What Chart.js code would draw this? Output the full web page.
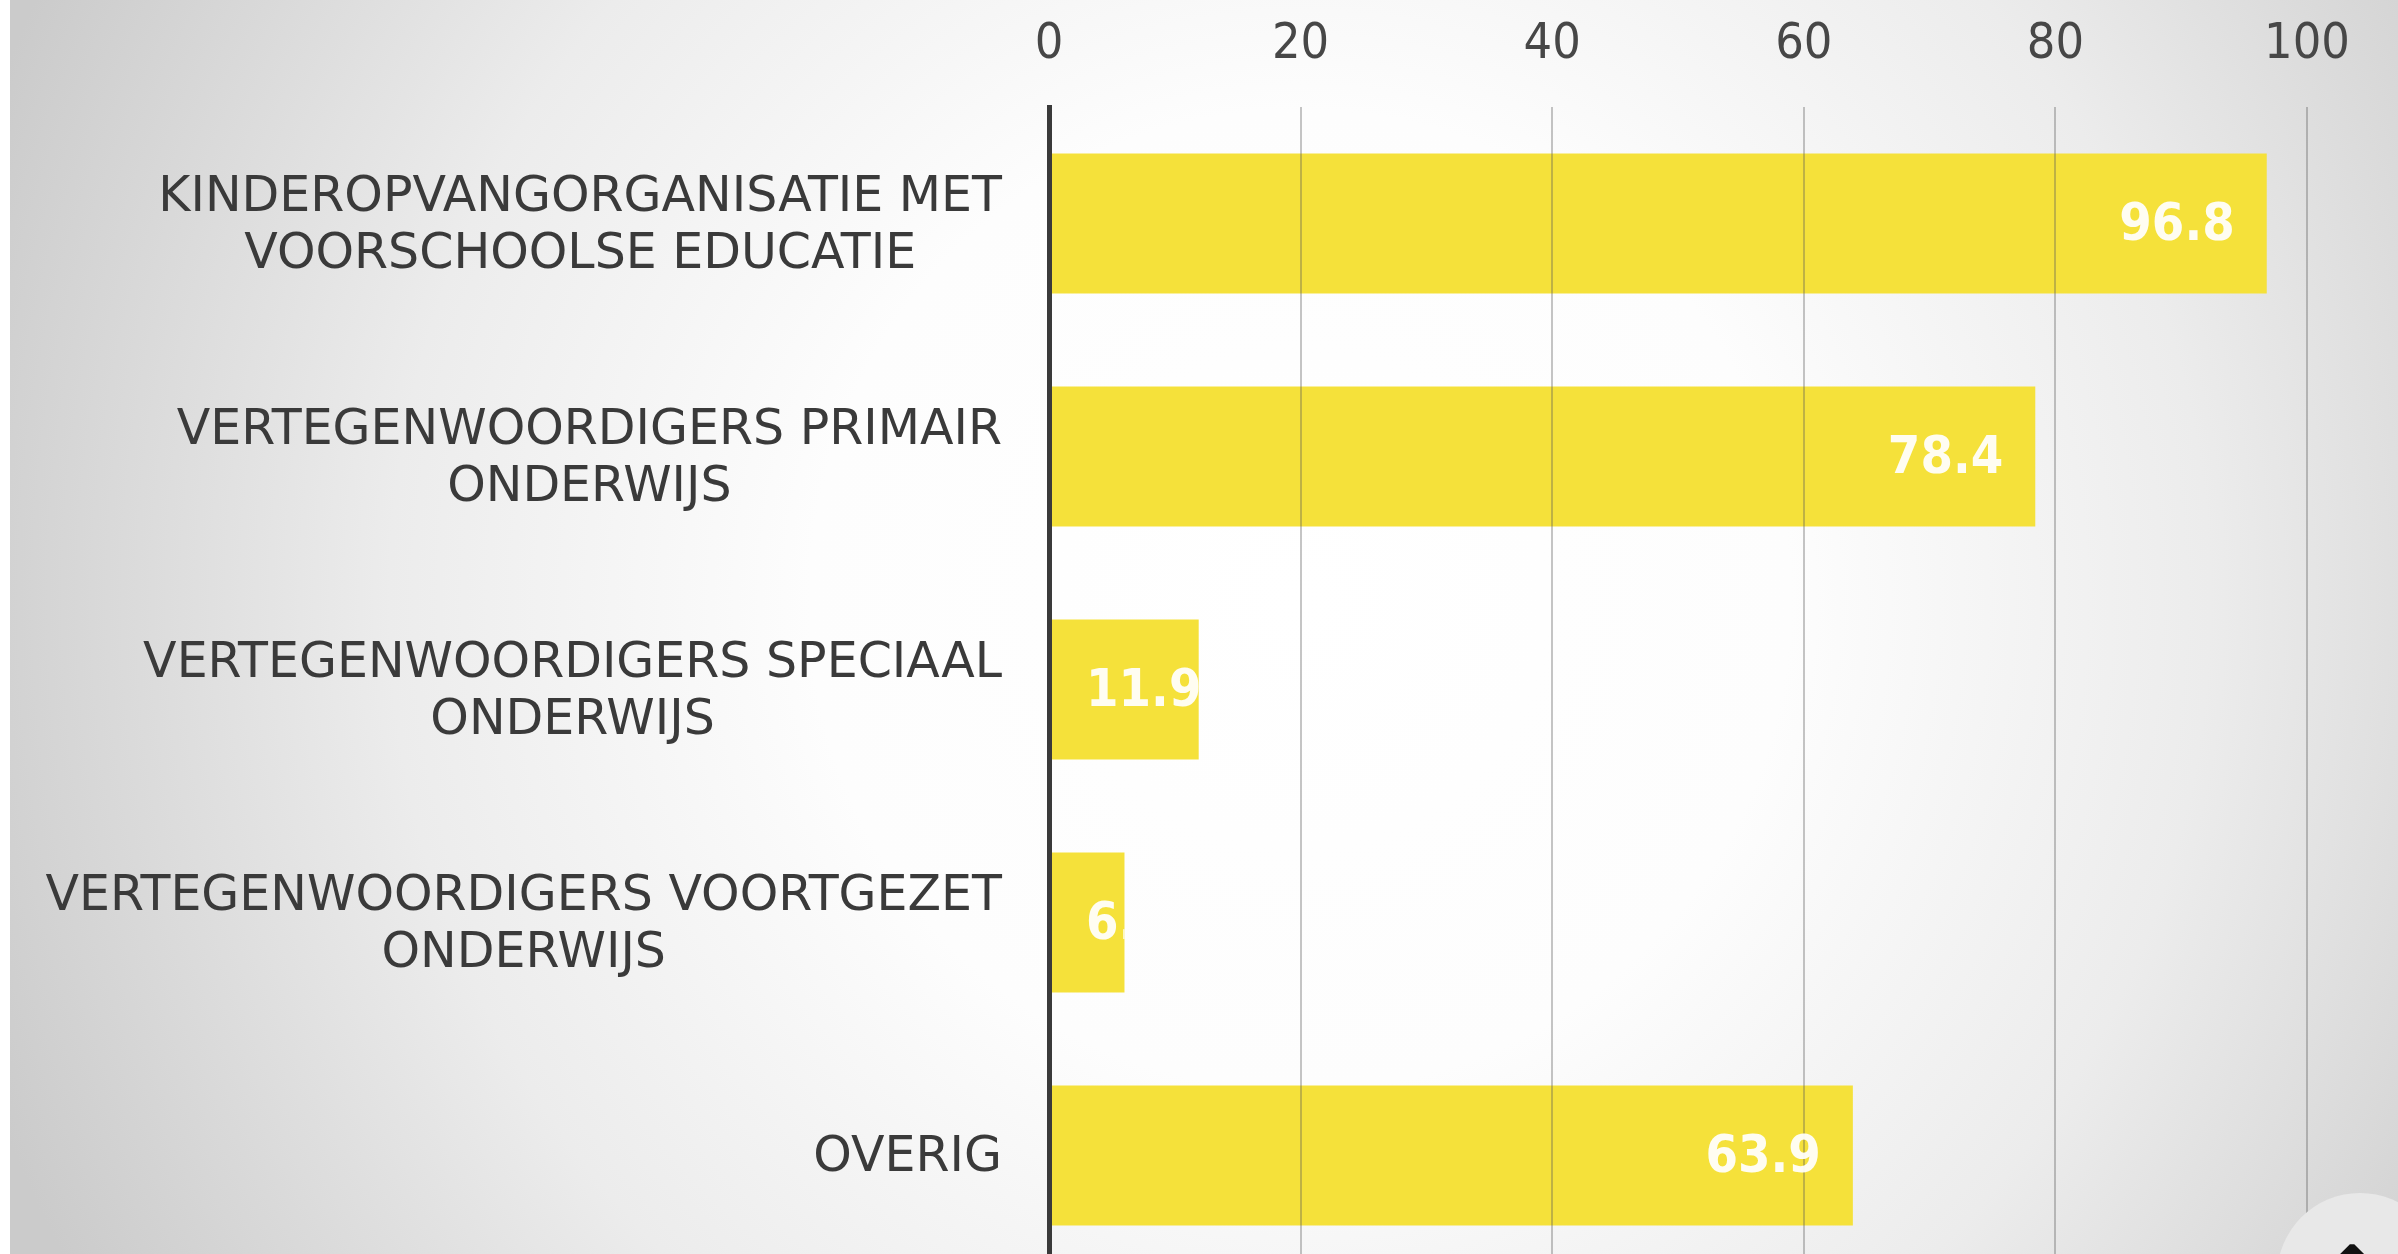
<!DOCTYPE html>
<html>
<head>
<meta charset="utf-8">
<script src="https://cdn.jsdelivr.net/npm/chart.js@4.4.1/dist/chart.umd.min.js"></script>
<style>
  html, body { margin: 0; padding: 0; overflow: hidden; background: #fff; }
  #wrap { position: relative; width: 2398px; height: 1254px; overflow: hidden; }
  #chart { position: absolute; left: 0; top: 0; }
  #topBtn {
    position: absolute; left: 2277px; top: 1193px; width: 166px; height: 166px;
    border-radius: 50%; background: #e8e8e8;
    font: bold 64px "DejaVu Sans"; color: #111; text-align: center; line-height: 1;
  }
  #topBtn span { position: relative; top: 44px; left: -8px; }
</style>
</head>
<body>
<div id="wrap">
  <canvas id="chart" width="2398" height="1300"></canvas>
  <div id="topBtn"><span>↑</span></div>
</div>
<script>
// data
const categories = [
    ['KINDEROPVANGORGANISATIE MET', 'VOORSCHOOLSE EDUCATIE'],
    ['VERTEGENWOORDIGERS PRIMAIR', 'ONDERWIJS'],
    ['VERTEGENWOORDIGERS SPECIAAL', 'ONDERWIJS'],
    ['VERTEGENWOORDIGERS VOORTGEZET', 'ONDERWIJS'],
    ['OVERIG']
];
const values = [96.8, 78.4, 11.9, 6.0, 63.9];
const xMin = 0;
const xMax = 100;
const xStep = 20;

const FONT = '"DejaVu Sans Condensed", "DejaVu Sans", sans-serif';
const LABEL_FONT = '"DejaVu Sans", sans-serif';

// soft grey radial backdrop
const backdrop = {
    id: 'backdrop',
    beforeDraw(chart) {
        const {ctx, width, height} = chart;
        ctx.save();
        const g = ctx.createRadialGradient(1300, 600, 0, 1300, 600, 1400);
        g.addColorStop(0, '#ffffff');
        g.addColorStop(0.35, '#fdfdfd');
        g.addColorStop(0.65, '#ececec');
        g.addColorStop(1, '#cbcbcb');
        ctx.fillStyle = g;
        ctx.fillRect(0, 0, width, height);
        ctx.fillStyle = '#ffffff';
        ctx.fillRect(0, 0, 10, height);
        ctx.restore();
    }
};

// category labels: block right aligned, lines centred inside the block
const catLabels = {
    id: 'catLabels',
    afterDraw(chart) {
        const {ctx, chartArea} = chart;
        const yScale = chart.scales.y;
        const lineH = 57;
        ctx.save();
        ctx.font = '49px ' + LABEL_FONT;
        ctx.fillStyle = '#3a3a3a';
        ctx.textAlign = 'center';
        ctx.textBaseline = 'middle';
        categories.forEach((lines, i) => {
            const y = yScale.getPixelForValue(i) + 3;
            const blockW = Math.max(...lines.map(l => ctx.measureText(l).width));
            const cx = chartArea.left - 47 - blockW / 2;
            lines.forEach((line, j) => {
                ctx.fillText(line, cx, y + (j - (lines.length - 1) / 2) * lineH);
            });
        });
        ctx.restore();
    }
};

// white values inside the bar end, clipped to the bar
const valueLabels = {
    id: 'valueLabels',
    afterDraw(chart) {
        const {ctx} = chart;
        const meta = chart.getDatasetMeta(0);
        ctx.save();
        ctx.font = 'bold 52px ' + FONT;
        ctx.fillStyle = 'rgba(255,255,255,0.93)';
        ctx.textAlign = 'left';
        ctx.textBaseline = 'middle';
        meta.data.forEach((bar, i) => {
            const {x, y, base, height} = bar.getProps(['x', 'y', 'base', 'height'], true);
            const text = values[i].toFixed(1);
            const w = ctx.measureText(text).width;
            let tx = x - 32 - w;
            if (tx < base + 36) tx = base + 36;
            ctx.save();
            ctx.beginPath();
            ctx.rect(base, y - height / 2, x - base, height);
            ctx.clip();
            ctx.fillText(text, tx, y + 3);
            ctx.restore();
        });
        ctx.restore();
    }
};

new Chart(document.getElementById('chart').getContext('2d'), {
    type: 'bar',
    data: {
        labels: categories,
        datasets: [{
            data: values,
            backgroundColor: '#f5e13a',
            borderWidth: 0,
            barPercentage: 0.6,
            categoryPercentage: 1.0
        }]
    },
    options: {
        indexAxis: 'y',
        responsive: false,
        animation: false,
        layout: {padding: {left: 1049, right: 91, top: 11, bottom: 28}},
        plugins: {
            legend: {display: false},
            tooltip: {enabled: false}
        },
        scales: {
            x: {
                position: 'top',
                min: xMin,
                max: xMax,
                afterFit: scale => { scale.height = 96; },
                ticks: {
                    stepSize: xStep,
                    padding: 32,
                    color: '#474747',
                    font: {family: FONT, size: 50, lineHeight: 1.2}
                },
                grid: {
                    color: 'rgba(90,90,90,0.35)',
                    lineWidth: 2,
                    drawTicks: false,
                    z: 1
                },
                border: {display: false}
            },
            y: {
                afterFit: scale => { scale.width = 0; },
                ticks: {display: false},
                grid: {display: false, drawTicks: false},
                border: {display: true, color: '#3a3a3a', width: 5, z: 2}
            }
        }
    },
    plugins: [backdrop, catLabels, valueLabels]
});
</script>
</body>
</html>
